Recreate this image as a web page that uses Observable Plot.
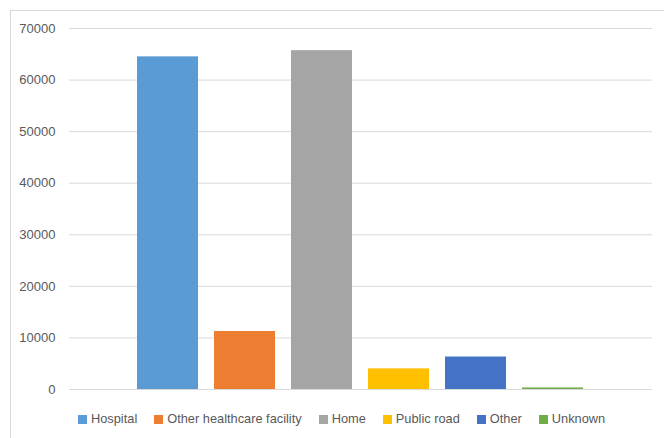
<!DOCTYPE html>
<html>
<head>
<meta charset="utf-8">
<script src="https://cdn.jsdelivr.net/npm/d3@7"></script>
<script src="https://cdn.jsdelivr.net/npm/@observablehq/plot@0.6"></script>
<style>
  html, body { margin: 0; padding: 0; background: #fff; width: 664px; height: 438px; overflow: hidden; }
  #frame { position: absolute; left: 10px; top: 10px; width: 700px; height: 500px; border: 1px solid #d9d9d9; box-sizing: border-box; }
  #chart { position: absolute; left: 0; top: 0; }
  #legend { position: absolute; left: 78px; top: 410px; }
  div.lg-swatches { font-family: "Liberation Sans", Arial, sans-serif; font-size: 12.8px; color: #595959; margin: 0 !important; padding: 0; line-height: 18px; height: 18px; min-height: 0 !important; display: flex; align-items: center; }
  div.lg-swatches .lg-swatch { margin-right: 17px; display: inline-flex; align-items: center; }
  div.lg-swatches .lg-swatch > svg { margin-right: 4px; }
</style>
</head>
<body>
<div id="frame"></div>
<div id="chart"></div>
<div id="legend"></div>
<script>
// Deaths by place of death
const categories = ["Hospital", "Other healthcare facility", "Home", "Public road", "Other", "Unknown"];
const deaths = [64500, 11250, 65700, 4000, 6300, 300];
const colors = ["#5b9bd5", "#ed7d31", "#a5a5a5", "#ffc000", "#4472c4", "#70ad47"];
const yTicks = [0, 10000, 20000, 30000, 40000, 50000, 60000, 70000];

const data = categories.map((c, i) => ({category: c, value: deaths[i]}));

const chart = Plot.plot({
  width: 664,
  height: 400,
  marginLeft: 69,
  marginRight: 12,
  marginTop: 28,
  marginBottom: 11,
  style: {fontFamily: "'Liberation Sans', Arial, sans-serif", fontSize: "13px", color: "#595959", background: "transparent"},
  x: {domain: categories, range: [135, 586], paddingInner: 0.205, paddingOuter: 0, axis: null},
  y: {domain: [0, 70000], ticks: yTicks, tickFormat: d => String(d), label: null},
  color: {domain: categories, range: colors},
  marks: [
    Plot.gridY(yTicks, {stroke: "#d9d9d9", strokeOpacity: 1, strokeWidth: 1}),
    Plot.axisY(yTicks, {tickSize: 0, tickPadding: 14, tickFormat: d => String(d), fill: "#595959", label: null}),
    Plot.barY(data, {x: "category", y: "value", fill: "category"})
  ]
});
document.getElementById("chart").appendChild(chart);

const legend = Plot.legend({
  color: {domain: categories, range: colors},
  legend: "swatches",
  className: "lg",
  swatchSize: 9
});
document.getElementById("legend").appendChild(legend);
</script>
</body>
</html>
